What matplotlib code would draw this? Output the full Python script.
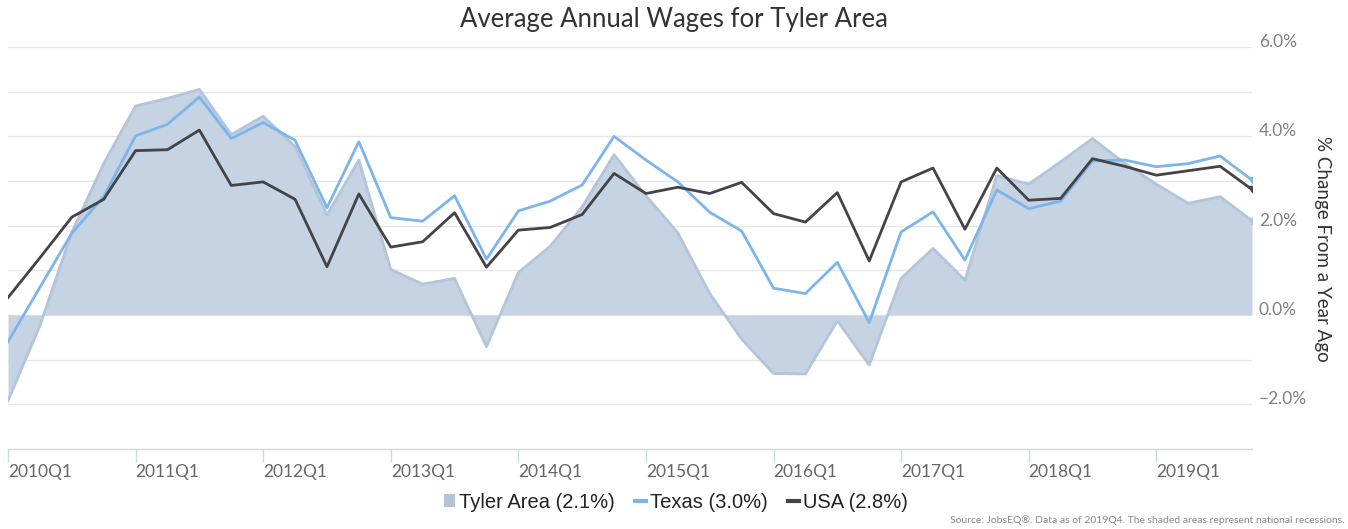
import matplotlib
matplotlib.use("Agg")
import matplotlib.pyplot as plt
from matplotlib.patches import Patch
from matplotlib.lines import Line2D

# ---- data ----
quarters = [f"{y}Q{q}" for y in range(2010, 2020) for q in range(1, 5)]
tick_labels = ["2010Q1", "2011Q1", "2012Q1", "2013Q1", "2014Q1",
               "2015Q1", "2016Q1", "2017Q1", "2018Q1", "2019Q1"]
tyler = [-1.92, -0.24, 1.85, 3.39, 4.68, 4.85, 5.05, 4.04, 4.45, 3.77,
         2.24, 3.47, 1.02, 0.69, 0.82, -0.71, 0.95, 1.54, 2.42, 3.59,
         2.67, 1.84, 0.48, -0.54, -1.31, -1.32, -0.13, -1.12, 0.82, 1.49,
         0.78, 3.12, 2.93, 3.43, 3.95, 3.40, 2.93, 2.50, 2.65, 2.11]
texas = [-0.60, 0.62, 1.83, 2.65, 4.01, 4.27, 4.88, 3.95, 4.31, 3.91,
         2.40, 3.88, 2.18, 2.10, 2.67, 1.25, 2.33, 2.55, 2.91, 4.00,
         3.47, 2.98, 2.30, 1.88, 0.60, 0.48, 1.18, -0.17, 1.86, 2.31,
         1.23, 2.80, 2.38, 2.55, 3.45, 3.47, 3.32, 3.39, 3.56, 3.02]
usa = [0.39, 1.28, 2.19, 2.59, 3.68, 3.70, 4.14, 2.90, 2.98, 2.59,
       1.08, 2.71, 1.52, 1.64, 2.29, 1.07, 1.90, 1.96, 2.25, 3.17,
       2.72, 2.86, 2.72, 2.97, 2.27, 2.08, 2.74, 1.21, 2.98, 3.29,
       1.92, 3.29, 2.57, 2.61, 3.50, 3.33, 3.13, 3.23, 3.33, 2.81]
legend_labels = ["Tyler Area (2.1%)", "Texas (3.0%)", "USA (2.8%)"]
ytick_vals = [-2, 0, 2, 4, 6]

title = "Average Annual Wages for Tyler Area"
ylabel = "% Change From a Year Ago"
source = "Source: JobsEQ\u00ae. Data as of 2019Q4. The shaded areas represent national recessions."

# ---- style ----
C_AREA = "#c5d3e3"
C_AREA_EDGE = "#b4c5da"
C_TX = "#7cb5ec"
C_US = "#434348"
C_GRID = "#e6e6e6"
C_AXIS = "#ccd6eb"

W, H = 1348, 529
fig = plt.figure(figsize=(W / 100, H / 100), dpi=100)
left, right, top, bottom = 8, 1252, 47, 449
ax = fig.add_axes([left / W, 1 - bottom / H, (right - left) / W, (bottom - top) / H])

x = list(range(len(quarters)))
ax.set_xlim(0, len(quarters) - 1)
ax.set_ylim(-3, 6)

for g in range(-2, 7):
    ax.axhline(g, color=C_GRID, lw=1, zorder=0)

ax.fill_between(x, 0, tyler, color=C_AREA, lw=0, zorder=1)
ax.plot(x, tyler, color=C_AREA_EDGE, lw=2, zorder=2,
        marker="v", markevery=[len(x) - 1], ms=5)
ax.plot(x, texas, color=C_TX, lw=2, zorder=3,
        marker="v", markevery=[len(x) - 1], ms=5)
ax.plot(x, usa, color=C_US, lw=2, zorder=4,
        marker="v", markevery=[len(x) - 1], ms=5)

for s in ["top", "left", "right"]:
    ax.spines[s].set_visible(False)
ax.spines["bottom"].set_color(C_AXIS)
ax.spines["bottom"].set_linewidth(1)
ax.spines["bottom"].set_zorder(5)

ax.set_xticks(list(range(0, len(quarters), 4)))
ax.set_xticklabels(tick_labels, ha="left", fontsize=12.5, color="#666666",
                   family="Lato")
ax.tick_params(axis="x", direction="out", length=9, color=C_AXIS, width=1, pad=2)

ax.yaxis.tick_right()
ax.set_yticks(ytick_vals)
ax.set_yticklabels([f"{v:.1f}%".replace("-", "\u2212") for v in ytick_vals],
                   fontsize=12.5, color="#808080", family="Lato", va="baseline")
ax.tick_params(axis="y", length=0, pad=5)

fig.text(1322 / W, 1 - 249 / H, ylabel, rotation=270, ha="center", va="center",
         fontsize=13.5, color="#333333", family="Lato")

fig.text(674 / W, 1 - 20 / H, title, ha="center", va="center", fontsize=18.5,
         family="Lato", fontweight="normal", color="#333333")

handles = [Patch(facecolor=C_AREA_EDGE, edgecolor="none"),
           Line2D([0], [0], color=C_TX, lw=3),
           Line2D([0], [0], color=C_US, lw=3)]
leg = fig.legend(handles, legend_labels, loc="center", ncol=3,
                 bbox_to_anchor=(676 / W, 1 - 502 / H), frameon=False,
                 prop={"family": "Liberation Sans", "size": 14.5},
                 handlelength=0.55, handleheight=0.6, handletextpad=0.2,
                 columnspacing=1.0, borderaxespad=0)
for t in leg.get_texts():
    t.set_color("#222222")

fig.text(1345 / W, 1 - 520 / H, source, ha="right", va="center", fontsize=7.5,
         family="Lato", color="#888888")

fig.savefig("out.png", dpi=100)
